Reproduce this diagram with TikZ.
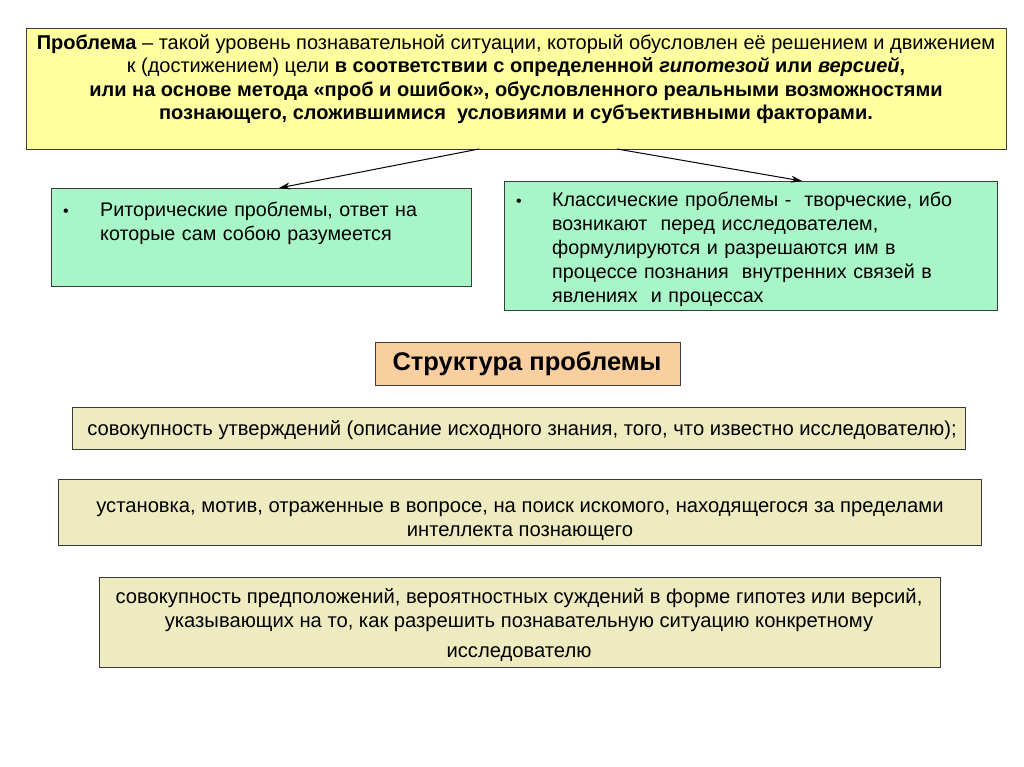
\documentclass[tikz,border=0pt]{standalone}
\usepackage{fontspec}
\setmainfont{Liberation Sans}
\usetikzlibrary{arrows.meta}
\definecolor{topyellow}{HTML}{FFFFA0}
\definecolor{mint}{HTML}{A8F5C8}
\definecolor{peach}{HTML}{F9CFA0}
\definecolor{khaki}{HTML}{EDEBBF}
\definecolor{edge}{HTML}{3A3A3A}
\tikzset{
  box/.style={draw=edge, line width=1pt, inner sep=0pt, anchor=north west},
  txt/.style={inner sep=0pt, align=center, font=\fontsize{20}{23.4}\selectfont},
  ntxt/.style={inner sep=0pt, align=center, font=\fontsize{20.2}{24}\selectfont},
  btxt/.style={inner sep=0pt, align=left, anchor=north west, text width=#1, font=\fontsize{19.7}{24}\selectfont},
  bul/.style={inner sep=0pt, font=\fontsize{16}{24}\selectfont},
  conn/.style={-{Stealth[length=11pt,width=7pt]}, line width=1pt, black}
}
\begin{document}
\begin{tikzpicture}[x=1pt,y=-1pt]
\useasboundingbox (0,0) rectangle (1024,767);
% top box
\node[box, fill=topyellow, minimum width=980pt, minimum height=121pt] (top) at (26,28) {};
\node[txt, anchor=north] (toptext) at (516,34.5) {%
\textbf{Проблема} – такой уровень познавательной ситуации, который обусловлен её решением и движением\\
к (достижением) цели \textbf{в соответствии с определенной \textit{гипотезой} или \textit{версией},}\\
\textbf{или на основе метода «проб и ошибок», обусловленного реальными возможностями}\\
\textbf{познающего, сложившимися\ \ условиями и субъективными факторами.}};
% green boxes
\node[box, fill=mint, minimum width=420pt, minimum height=98pt] (left) at (51,188) {};
\node[bul] (lbul) at (66,213) {•};
\node[btxt=360pt] (ltext) at (100,202) {Риторические проблемы, ответ на\\которые сам собою разумеется};
\node[box, fill=mint, minimum width=493pt, minimum height=129pt] (right) at (504,181) {};
\node[bul] (rbul) at (519,203) {•};
\node[btxt=440pt] (rtext) at (552,192) {Классические проблемы -\ \ творческие, ибо\\возникают\ \ перед исследователем,\\формулируются и разрешаются им в\\процессе познания\ \ внутренних связей в\\явлениях\ \ и процессах};
% arrows
\coordinate (a1) at (479,149);
\coordinate (t1) at (279,188);
\coordinate (a2) at (617,149);
\coordinate (t2) at (802,181);
\draw[conn] (a1) -- (t1);
\draw[conn] (a2) -- (t2);
% structure title
\node[box, fill=peach, minimum width=305pt, minimum height=43pt] (struct) at (375,342) {};
\node[inner sep=0pt, font=\bfseries\fontsize{25.5}{28}\selectfont] (stext) at (527,364) {Структура проблемы};
% bottom boxes
\node[box, fill=khaki, minimum width=893pt, minimum height=42pt] (b1) at (72,407) {};
\node[ntxt] (b1t) at (522,430) {совокупность утверждений (описание исходного знания, того, что известно исследователю);};
\node[box, fill=khaki, minimum width=923pt, minimum height=66pt] (b2) at (58,479) {};
\node[ntxt] (b2t) at (520,521) {установка, мотив, отраженные в вопросе, на поиск искомого, находящегося за пределами\\интеллекта познающего};
\node[box, fill=khaki, minimum width=841pt, minimum height=90pt] (b3) at (99,577) {};
\node[ntxt] (b3t) at (519,625) {совокупность предположений, вероятностных суждений в форме гипотез или версий,\\указывающих на то, как разрешить познавательную ситуацию конкретному\\[6pt]исследователю};
\end{tikzpicture}
\end{document}
